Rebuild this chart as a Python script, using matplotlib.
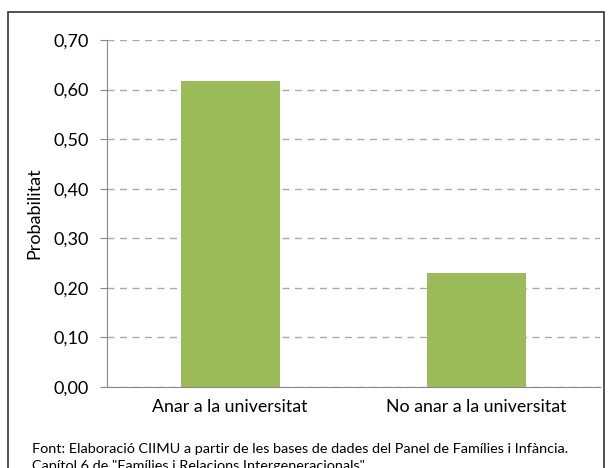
import matplotlib
matplotlib.use("Agg")
import matplotlib.pyplot as plt
from matplotlib.patches import Rectangle

plt.rcParams['font.family'] = ['Lato', 'DejaVu Sans']

# dades
categories = ['Anar a la universitat', 'No anar a la universitat']
values = [0.617, 0.23]
yticks = [0.0, 0.1, 0.2, 0.3, 0.4, 0.5, 0.6, 0.7]
source = ('Font: Elaboració CIIMU a partir de les bases de dades del Panel de Famílies i Infància.\n'
          'Capítol 6 de "Famílies i Relacions Intergeneracionals"')

W, H = 610, 468
fig = plt.figure(figsize=(W / 100, H / 100), dpi=100)
ax = fig.add_axes([107 / W, 1 - 387 / H, 493 / W, (387 - 40) / H])

ax.bar(range(len(categories)), values, width=0.4, color='#9BBB59', zorder=3)
ax.set_xlim(-0.5, len(categories) - 0.5)
ax.set_ylim(0, 0.7)
ax.set_yticks(yticks)
ax.set_yticklabels([f'{v:.2f}'.replace('.', ',') for v in yticks], fontsize=13)
ax.set_xticks(range(len(categories)))
ax.set_xticklabels(categories, fontsize=12.8)
ax.tick_params(axis='x', length=0, pad=9)
ax.tick_params(axis='y', length=5, color='#888888', pad=8)
ax.yaxis.grid(True, linestyle=(0, (5, 4)), color='#AAAAAA', linewidth=1, zorder=0)
for s in ['top', 'right']:
    ax.spines[s].set_visible(False)
ax.spines['left'].set_color('#888888')
ax.spines['bottom'].set_color('#888888')
ax.set_ylabel('Probabilitat', fontsize=13, labelpad=8)

fig.text(32 / W, 1 - 443 / H, source, fontsize=10.4, va='top', ha='left', linespacing=1.5)

fig.patches.append(Rectangle((8 / W, -0.1), (604 - 8) / W, 1 - 12 / H + 0.1,
                             transform=fig.transFigure, fill=False,
                             edgecolor='#333333', linewidth=1.2))

fig.savefig('out.png', dpi=100)
